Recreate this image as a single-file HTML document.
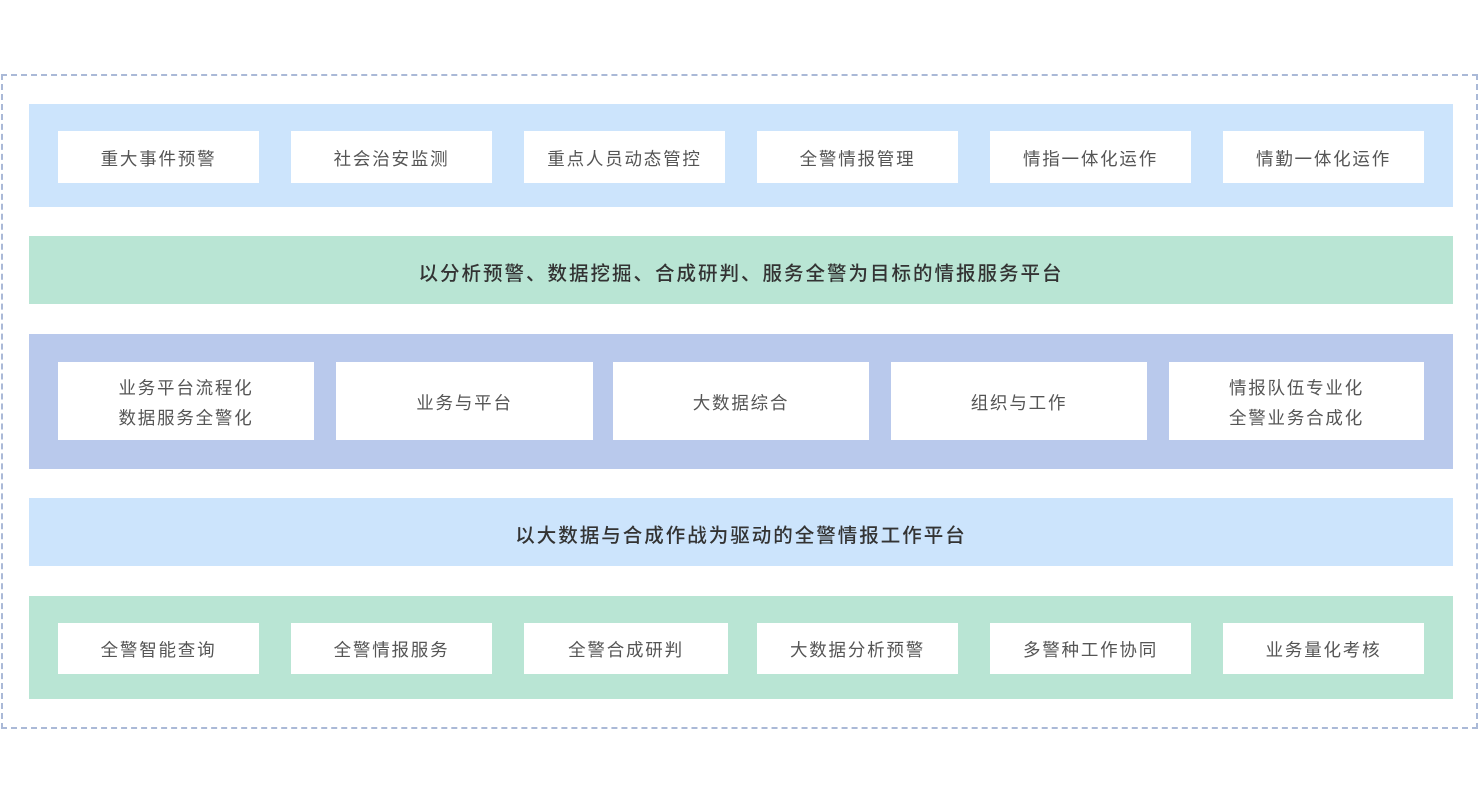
<!DOCTYPE html>
<html><head><meta charset="utf-8"><style>
body{margin:0;width:1480px;height:800px;background:#fff;position:relative;font-family:"Liberation Sans","Noto Sans CJK SC",sans-serif;overflow:hidden}
div{position:absolute;box-sizing:border-box}
.o{left:1px;top:74px;width:1477px;height:655px;border:2px dashed #aab9d7}
.b{background:#fff;display:flex;align-items:center;justify-content:center;text-align:center;font-size:17.5px;color:#555;letter-spacing:1.8px;line-height:30px;padding-top:3px}
.t{display:flex;align-items:center;justify-content:center;font-size:19.5px;color:#333;letter-spacing:2px;font-weight:500;padding-top:2px}
</style></head><body>
<div class="o"></div>
<div style="left:29px;top:104px;width:1424px;height:103px;background:#cce4fc"></div>
<div class="b" style="left:58px;top:131px;width:201px;height:52px">重大事件预警</div>
<div class="b" style="left:291px;top:131px;width:201px;height:52px">社会治安监测</div>
<div class="b" style="left:524px;top:131px;width:201px;height:52px">重点人员动态管控</div>
<div class="b" style="left:757px;top:131px;width:201px;height:52px">全警情报管理</div>
<div class="b" style="left:990px;top:131px;width:201px;height:52px">情指一体化运作</div>
<div class="b" style="left:1223px;top:131px;width:201px;height:52px">情勤一体化运作</div>
<div class="t" style="left:29px;top:236px;width:1424px;height:68px;background:#b9e5d4">以分析预警、数据挖掘、合成研判、服务全警为目标的情报服务平台</div>
<div style="left:29px;top:334px;width:1424px;height:135px;background:#b9c9ec"></div>
<div class="b" style="left:58px;top:362px;width:256px;height:78px">业务平台流程化<br>数据服务全警化</div>
<div class="b" style="left:336px;top:362px;width:257px;height:78px">业务与平台</div>
<div class="b" style="left:613px;top:362px;width:256px;height:78px">大数据综合</div>
<div class="b" style="left:891px;top:362px;width:256px;height:78px">组织与工作</div>
<div class="b" style="left:1169px;top:362px;width:255px;height:78px">情报队伍专业化<br>全警业务合成化</div>
<div class="t" style="left:29px;top:498px;width:1424px;height:68px;background:#cce4fc">以大数据与合成作战为驱动的全警情报工作平台</div>
<div style="left:29px;top:596px;width:1424px;height:103px;background:#b9e5d4"></div>
<div class="b" style="left:58px;top:623px;width:201px;height:51px">全警智能查询</div>
<div class="b" style="left:291px;top:623px;width:201px;height:51px">全警情报服务</div>
<div class="b" style="left:524px;top:623px;width:204px;height:51px">全警合成研判</div>
<div class="b" style="left:757px;top:623px;width:201px;height:51px">大数据分析预警</div>
<div class="b" style="left:990px;top:623px;width:201px;height:51px">多警种工作协同</div>
<div class="b" style="left:1223px;top:623px;width:201px;height:51px">业务量化考核</div>
</body></html>
